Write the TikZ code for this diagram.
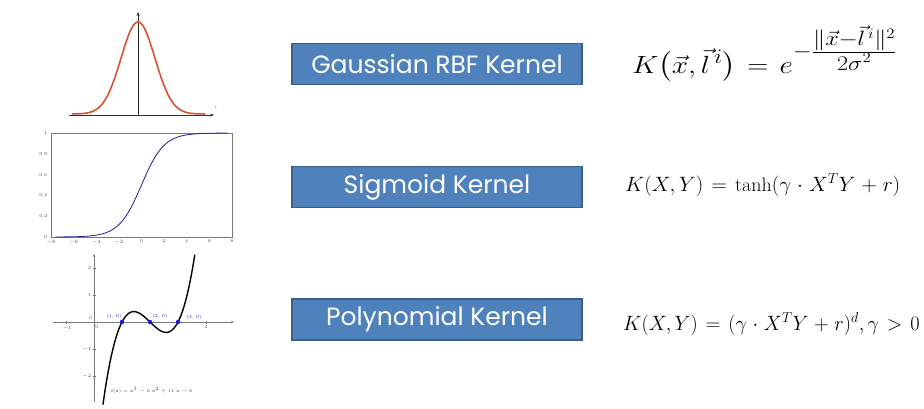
\documentclass[tikz,border=0pt]{standalone}
\usepackage{amsmath}
\usepackage{fontspec}
\newfontfamily\boxfont{Poppins}
\usetikzlibrary{arrows.meta}

\definecolor{kernelblue}{RGB}{79,129,189}
\definecolor{kerneledge}{RGB}{58,95,140}
\definecolor{gausscurve}{RGB}{217,84,46}
\definecolor{sigcurve}{RGB}{30,30,150}
\definecolor{ptblue}{RGB}{25,25,230}
\definecolor{axisgray}{RGB}{120,120,120}

% wider operator spacing in the displayed kernels
\newcommand{\kspacing}{\thickmuskip=7mu\medmuskip=5mu}

\begin{document}
\begin{tikzpicture}[x=1pt,y=-1pt,
  kernelbox/.style={draw=kerneledge, line width=1.3pt, fill=kernelblue,
    minimum width=290pt, minimum height=41pt, inner sep=0pt, text=white,
    font=\boxfont\fontsize{25}{30}\selectfont},
  formula/.style={anchor=base west, inner sep=0pt},
  ticklbl/.style={inner sep=0.5pt, text=black!70, font=\fontsize{4.5}{5}\selectfont},
  plotaxis/.style={draw=axisgray, line width=0.5pt},
  ptlbl/.style={inner sep=0pt, text=ptblue, font=\fontsize{4.5}{5}\selectfont}]

\useasboundingbox[fill=white] (0,0) rectangle (924,408);

% ---------- Gaussian bump ----------
\coordinate (gO) at (138,115);
\coordinate (gR) at (214,115);
\coordinate (gL) at (69,115);
\coordinate (gT) at (138,12);
\draw[black!80, line width=0.7pt, -{Stealth[length=4pt,width=3pt]}] (gL) -- (gR);
\draw[black!85, line width=0.9pt, -{Stealth[length=4pt,width=3pt]}] (gO) -- (gT);
\node[inner sep=0pt, font=\fontsize{4}{5}\selectfont, text=black!60] (glbl) at (216,107) {t};
\draw[gausscurve, line width=1.6pt] plot[domain=72:205, samples=120]
  (\x, {114 - 92*exp(-((\x-138)/17)^2/2)});

% ---------- Sigmoid ----------
\draw[plotaxis] (51,133) rectangle (232,237);
\foreach \v/\l in {0/0, 0.2/0.2, 0.4/0.4, 0.6/0.6, 0.8/0.8, 1/1}
  \node[ticklbl, anchor=east] (sy\l) at (48,{237-104*\v}) {\l};
\foreach \t/\l in {-8/$-8$, -6/$-6$, -4/$-4$, -2/$-2$, 0/0, 2/2, 4/4, 6/6, 8/8}
  \node[ticklbl, anchor=north] (sx\t) at ({141.5+11.3*\t},239) {\l};
\draw[sigcurve, line width=0.8pt] plot[domain=-7.6:7.6, samples=120]
  ({141.5+11.3*\x}, {237-104/(1+exp(-\x))});

% ---------- Cubic ----------
\draw[plotaxis, -{Stealth[length=3pt,width=2.5pt]}] (53,322) -- (234,322);
\draw[plotaxis, -{Stealth[length=3pt,width=2.5pt]}] (94,402) -- (94,254);
\foreach \t in {-1,1,2,3,4}
  \draw[axisgray, line width=0.4pt] ({94+28*\t},320.5) -- ({94+28*\t},323.5);
\foreach \v in {-2,-1,1,2}
  \draw[axisgray, line width=0.4pt] (92.5,{322-27*\v}) -- (95.5,{322-27*\v});
\node[ticklbl] (cxm1) at (67,328) {$-1$};
\node[ticklbl] (cx0) at (97,327) {0};
\node[ticklbl] (cx4) at (206,327) {4};
\node[ticklbl, anchor=east] (cy0) at (93,318) {0};
\node[ticklbl, anchor=east] (cy1) at (92,295) {1};
\node[ticklbl, anchor=east] (cy2) at (92,268) {2};
\node[ticklbl, anchor=east] (cym1) at (92,349) {$-1$};
\node[ticklbl, anchor=east] (cym2) at (92,376) {$-2$};
\draw[black, line width=1.4pt] plot[domain=0.32:3.6, samples=120]
  ({94+28*\x}, {322-27*(\x-1)*(\x-2)*(\x-3)});
\foreach \t in {1,2,3}
  \fill[ptblue] ({94+28*\t},322) circle (2.2pt);
\node[ptlbl] (p1) at (114,316) {(1, 0)};
\node[ptlbl] (p2) at (160,316) {(2, 0)};
\node[ptlbl] (p3) at (194,317) {(3, 0)};
\node[inner sep=0pt, anchor=west, text=black!75, font=\fontsize{4.5}{5}\selectfont] (flbl) at (111,390)
  {f(x) = x$^3$ $-$ 6 x$^2$ + 11 x $-$ 6};

% ---------- Kernel names ----------
\node[kernelbox] (rbf) at (437,64) {Gaussian RBF Kernel};
\node[kernelbox] (sig) at (437,187) {Sigmoid Kernel};
\node[kernelbox] (poly) at (437,319.5) {Polynomial Kernel};

% ---------- Kernel formulas ----------
\node[formula, font=\fontsize{30}{36}\selectfont] (frbf) at (632,73)
  {\scalebox{1.17}[1]{\kspacing$K\bigl(\vec{x},\vec{l}^{\,i}\bigr) = e^{-\frac{\scriptstyle\|\vec{x}-\vec{l}^{\,i}\|^2}{\scriptstyle 2\sigma^2}}$}};
\node[formula, font=\fontsize{19.5}{24}\selectfont] (fsig) at (625,191)
  {\scalebox{1.025}[1]{\kspacing$K(X,Y) = \tanh(\gamma\cdot X^TY+r)$}};
\node[formula, font=\fontsize{19.5}{24}\selectfont] (fpoly) at (623,330)
  {\scalebox{0.98}[1]{\kspacing$K(X,Y) = (\gamma\cdot X^TY+r)^d,\gamma>0$}};

\end{tikzpicture}
\end{document}
